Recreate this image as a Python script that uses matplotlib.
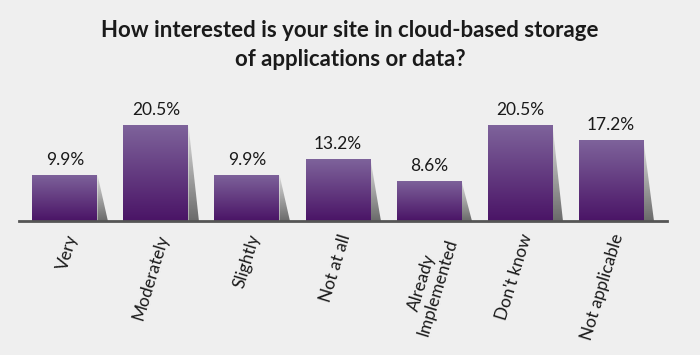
import numpy as np
import matplotlib.pyplot as plt
from matplotlib.patches import Polygon, Rectangle
from matplotlib.colors import LinearSegmentedColormap

categories = ["Very", "Moderately", "Slightly", "Not at all",
              "Already\nImplemented", "Don't know", "Not applicable"]
values = [9.9, 20.5, 9.9, 13.2, 8.6, 20.5, 17.2]
value_labels = ["9.9%", "20.5%", "9.9%", "13.2%", "8.6%", "20.5%", "17.2%"]

bg = "#efefef"
plt.rcParams['font.family'] = ['Lato', 'DejaVu Sans']

fig = plt.figure(figsize=(7, 3.55), dpi=100, facecolor=bg)
ax = fig.add_axes([19 / 700, 134 / 355, 648 / 700, 103 / 355])
ax.set_facecolor(bg)

purple = LinearSegmentedColormap.from_list("p", ["#4a1466", "#7e639b"])
grey = LinearSegmentedColormap.from_list("g", ["#6a6a6a", "#e0e0e0"])
grad = np.linspace(0, 1, 256).reshape(-1, 1)

w = 0.714
slant = 0.115
for i, v in enumerate(values):
    x0, x1 = i - w / 2, i + w / 2
    # shadow
    poly = Polygon([(x1, v), (x1 + slant, 0), (x1, 0)], closed=True,
                   facecolor="none", edgecolor="none")
    ax.add_patch(poly)
    im = ax.imshow(grad, cmap=grey, aspect="auto", origin="lower",
                   extent=(x1, x1 + slant, 0, v), zorder=1)
    im.set_clip_path(poly)
    # bar
    rect = Rectangle((x0, 0), w, v, facecolor="none", edgecolor="none")
    ax.add_patch(rect)
    im = ax.imshow(grad, cmap=purple, aspect="auto", origin="lower",
                   extent=(x0, x1, 0, v), zorder=2)
    im.set_clip_path(rect)
    ax.text(i, v + 1.5, value_labels[i], ha="center", va="bottom",
            fontsize=12.5, color="#1a1a1a")

ax.set_xlim(-0.505, 6.615)
ax.set_ylim(0, 22)
for s in ["top", "right", "left"]:
    ax.spines[s].set_visible(False)
ax.spines["bottom"].set_color("#555555")
ax.spines["bottom"].set_linewidth(2)
ax.set_yticks([])
ax.set_xticks(range(len(categories)))
ax.set_xticklabels(categories, rotation=73, ha="right", va="top",
                   rotation_mode="anchor", fontsize=12.5, color="#1a1a1a",
                   multialignment="center", linespacing=1.0)
ax.tick_params(axis="x", length=0, pad=8)

fig.text(0.5, 0.873, "How interested is your site in cloud-based storage\nof applications or data?",
         ha="center", va="center", fontsize=16, fontweight="bold",
         color="#1a1a1a", linespacing=1.5)

fig.savefig("out.png", dpi=100, facecolor=bg)
